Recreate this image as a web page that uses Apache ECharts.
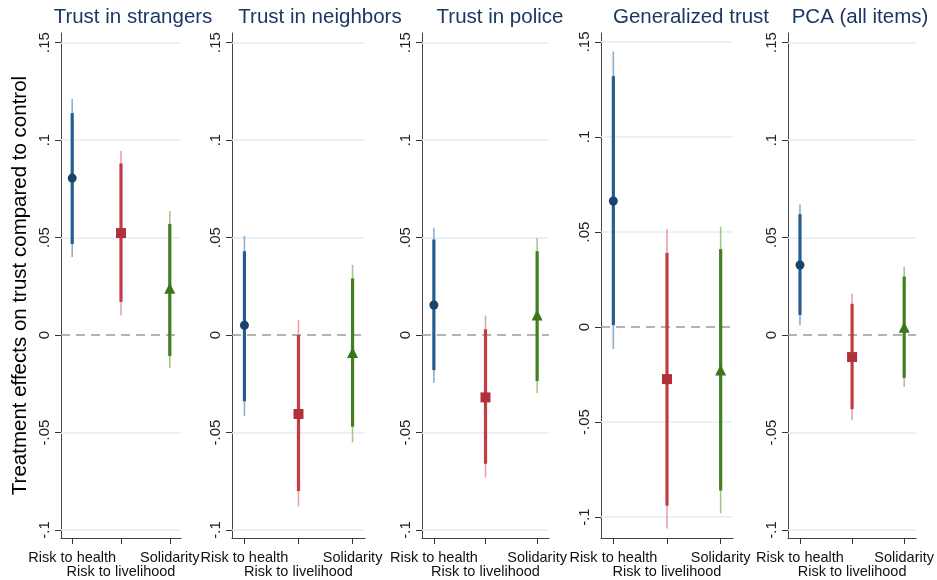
<!DOCTYPE html>
<html>
<head>
<meta charset="utf-8">
<script src="https://cdn.jsdelivr.net/npm/echarts@6/dist/echarts.min.js"></script>
<style>html,body{margin:0;padding:0;background:#fff}#c{width:937px;height:580px}</style>
</head>
<body>
<div id="c"></div>
<script>
// ---------- DATA ----------
const panelTitles = ['Trust in strangers', 'Trust in neighbors', 'Trust in police', 'Generalized trust', 'PCA (all items)'];
const treatments = ['Risk to health', 'Risk to livelihood', 'Solidarity'];
const yTicks = [-0.1, -0.05, 0, 0.05, 0.1, 0.15];
// rows = panels, columns = treatments
const pointEstimates = [
  [0.0805, 0.0523, 0.024],
  [0.005, -0.0405, -0.009],
  [0.0154, -0.032, 0.0103],
  [0.0663, -0.0274, -0.0226],
  [0.0359, -0.0113, 0.004]
];
const ci90Low = [
  [0.0467, 0.017, -0.0108],
  [-0.034, -0.080, -0.047],
  [-0.018, -0.066, -0.0236],
  [0.001, -0.094, -0.086],
  [0.0103, -0.038, -0.022]
];
const ci90High = [
  [0.1138, 0.088, 0.057],
  [0.043, 0.0, 0.029],
  [0.049, 0.003, 0.043],
  [0.132, 0.039, 0.041],
  [0.062, 0.016, 0.030]
];
const ci95Low = [
  [0.040, 0.010, -0.017],
  [-0.0415, -0.088, -0.055],
  [-0.0246, -0.073, -0.0297],
  [-0.0116, -0.106, -0.098],
  [0.005, -0.0436, -0.0267]
];
const ci95High = [
  [0.121, 0.0945, 0.0636],
  [0.0508, 0.0077, 0.036],
  [0.055, 0.010, 0.0497],
  [0.145, 0.0516, 0.0528],
  [0.067, 0.0213, 0.035]
];

// ---------- STYLE / LAYOUT ----------
const gridLefts = [61, 232, 422, 601, 788];
const gridWidths = [120, 133, 127, 132, 129];
const titleCenters = [133, 320, 500, 691, 860];
const yMins = [-0.1041, -0.1041, -0.1041, -0.111, -0.1041];
const yMaxs = [0.1549, 0.1549, 0.1549, 0.1547, 0.1549];
const markerColors = ['#17436d', '#b2303a', '#3a771c'];
const thickColors = ['#265d8f', '#c23a42', '#42801f'];
const thinColors = ['#8fadc9', '#e8a3a7', '#a8c591'];
const symbols = ['circle', 'rect', 'triangle'];
const symbolSizes = [9, 10, 11];
const FONT = '"Liberation Sans", Arial, sans-serif';
const catPositions = treatments.map((t, i) => i + 1);

function fmtY(v) {
  if (Math.abs(v) < 1e-9) return '0';
  const s = String(Math.abs(+v.toFixed(4))).replace(/^0/, '');
  return (v < 0 ? '-' : '') + s;
}
const catLabel = v => treatments[Math.round(v) - 1];

const grids = [], xAxes = [], yAxes = [], series = [], titles = [];
panelTitles.forEach((t, p) => {
  grids.push({ left: gridLefts[p], width: gridWidths[p], top: 33, height: 505 });
  titles.push({
    text: t, left: titleCenters[p], top: 7, textAlign: 'center', padding: 0,
    textStyle: { fontFamily: FONT, fontSize: 20.5, fontWeight: 'normal', color: '#1b3865' }
  });
  const xLabelStyle = { fontFamily: FONT, fontSize: 14.5, color: '#111', formatter: catLabel, hideOverlap: false };
  // first row: outer categories + all ticks
  xAxes.push({
    type: 'value', gridIndex: p, min: 0.77, max: 3.23, position: 'bottom',
    axisLine: { show: true, onZero: false, lineStyle: { color: '#444', width: 1 } },
    axisTick: { show: true, inside: false, customValues: catPositions, length: 6, lineStyle: { color: '#333', width: 1 } },
    axisLabel: Object.assign({ show: true, customValues: [catPositions[0], catPositions[2]], margin: 12,
      showMinLabel: true, showMaxLabel: true }, xLabelStyle),
    splitLine: { show: false }
  });
  // second row: middle category label
  xAxes.push({
    type: 'value', gridIndex: p, min: 0.77, max: 3.23, position: 'bottom', offset: 0,
    axisLine: { show: false }, axisTick: { show: false },
    axisLabel: Object.assign({ show: true, customValues: [catPositions[1]], margin: 26 }, xLabelStyle),
    splitLine: { show: false }
  });
  yAxes.push({
    type: 'value', gridIndex: p, min: yMins[p], max: yMaxs[p],
    axisLine: { show: true, onZero: false, lineStyle: { color: '#444', width: 1 } },
    axisTick: { show: true, inside: false, customValues: yTicks, length: 6, lineStyle: { color: '#333', width: 1 } },
    axisLabel: {
      show: true, customValues: yTicks, rotate: 90, margin: 9,
      showMinLabel: true, showMaxLabel: true,
      fontFamily: FONT, fontSize: 15, color: '#222', formatter: fmtY
    },
    splitLine: { show: false },
    name: p === 0 ? 'Treatment effects on trust compared to control' : '',
    nameLocation: 'middle', nameRotate: 90, nameGap: 30,
    nameTextStyle: { fontFamily: FONT, fontSize: 20.5, color: '#000' }
  });

  const errData = treatments.map((tr, i) => [catPositions[i], ci95Low[p][i], ci95High[p][i], ci90Low[p][i], ci90High[p][i], i]);
  series.push({
    type: 'custom', xAxisIndex: 2 * p, yAxisIndex: p, silent: true, z: 3,
    data: errData,
    renderItem: (params, api) => {
      const x = api.value(0), k = api.value(5);
      const a = api.coord([x, api.value(1)]), b = api.coord([x, api.value(2)]);
      const c = api.coord([x, api.value(3)]), d = api.coord([x, api.value(4)]);
      return {
        type: 'group', children: [
          { type: 'line', shape: { x1: a[0], y1: a[1], x2: b[0], y2: b[1] }, style: { stroke: thinColors[k], lineWidth: 1.6 } },
          { type: 'line', shape: { x1: c[0], y1: c[1], x2: d[0], y2: d[1] }, style: { stroke: thickColors[k], lineWidth: 3.2 } }
        ]
      };
    },
    markLine: {
      silent: true, symbol: 'none', label: { show: false }, z: 1,
      data: yTicks.map(v => ({
        yAxis: v,
        lineStyle: v === 0
          ? { color: '#9a9a9a', type: [9, 6], width: 1.6 }
          : { color: '#e2eef4', type: 'solid', width: 1.6 }
      }))
    }
  });
  series.push({
    type: 'scatter', xAxisIndex: 2 * p, yAxisIndex: p, z: 4, silent: true,
    data: treatments.map((tr, i) => ({
      value: [catPositions[i], pointEstimates[p][i]],
      symbol: symbols[i], symbolSize: symbolSizes[i],
      itemStyle: { color: markerColors[i], opacity: 1 }
    }))
  });
});

const chart = echarts.init(document.getElementById('c'), null, { renderer: 'canvas' });
chart.setOption({
  animation: false,
  backgroundColor: '#fff',
  title: titles,
  grid: grids,
  xAxis: xAxes,
  yAxis: yAxes,
  series: series
});
</script>
</body>
</html>
